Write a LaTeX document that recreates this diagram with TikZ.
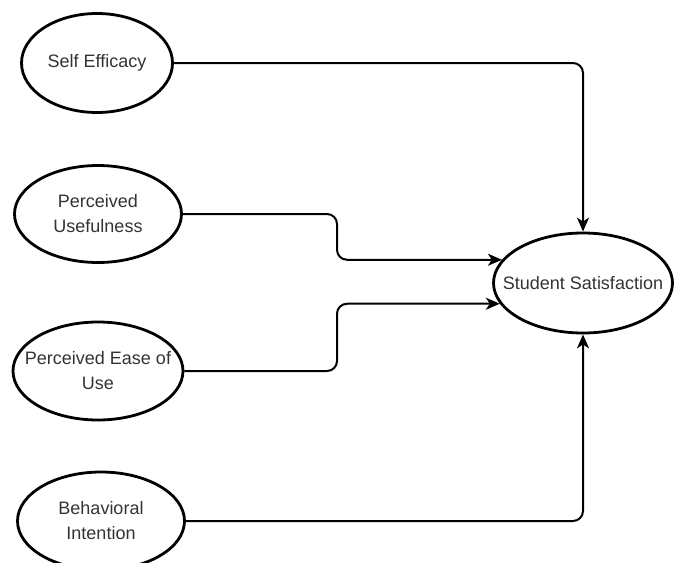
\documentclass[tikz,border=0pt]{standalone}
\usepackage{fontspec}
\setmainfont{Liberation Sans}
\usetikzlibrary{shapes.geometric,arrows.meta}
\tikzset{
    construct/.style={ellipse, draw, line width=2.8pt, inner sep=0pt},
    caption/.style={align=center, text=black!80, font=\fontsize{18}{25}\selectfont},
    link/.style={line width=2pt, rounded corners=10pt, -{Stealth[length=14pt,width=12pt,inset=4pt]}},
}

\begin{document}
\begin{tikzpicture}[x=1pt, y=-1pt]
    \useasboundingbox (0,0) rectangle (681,563);
    \node[construct, minimum width=151pt, minimum height=99pt, label={[caption]center:Self Efficacy}] (SE) at (97,63) {};
    \node[construct, minimum width=167pt, minimum height=97pt, label={[caption]center:Perceived\\Usefulness}] (PU) at (98,214) {};
    \node[construct, minimum width=170pt, minimum height=98pt, label={[caption]center:Perceived Ease of\\Use}] (PE) at (98,371) {};
    \node[construct, minimum width=167pt, minimum height=98pt, label={[caption]center:Behavioral\\Intention}] (BI) at (101,521) {};
    \node[construct, minimum width=179pt, minimum height=100pt, label={[caption]center:Student Satisfaction}] (SS) at (583,283) {};
    \coordinate (split) at (337,0);
    \draw[link] (SE.east) -| (SS.north);
    \draw[link] (PU.east) -| (split |- SS.164) -- (SS.164);
    \draw[link] (PE.east) -| (split |- SS.194) -- (SS.194);
    \draw[link] (BI.east) -| (SS.south);
\end{tikzpicture}
\end{document}
